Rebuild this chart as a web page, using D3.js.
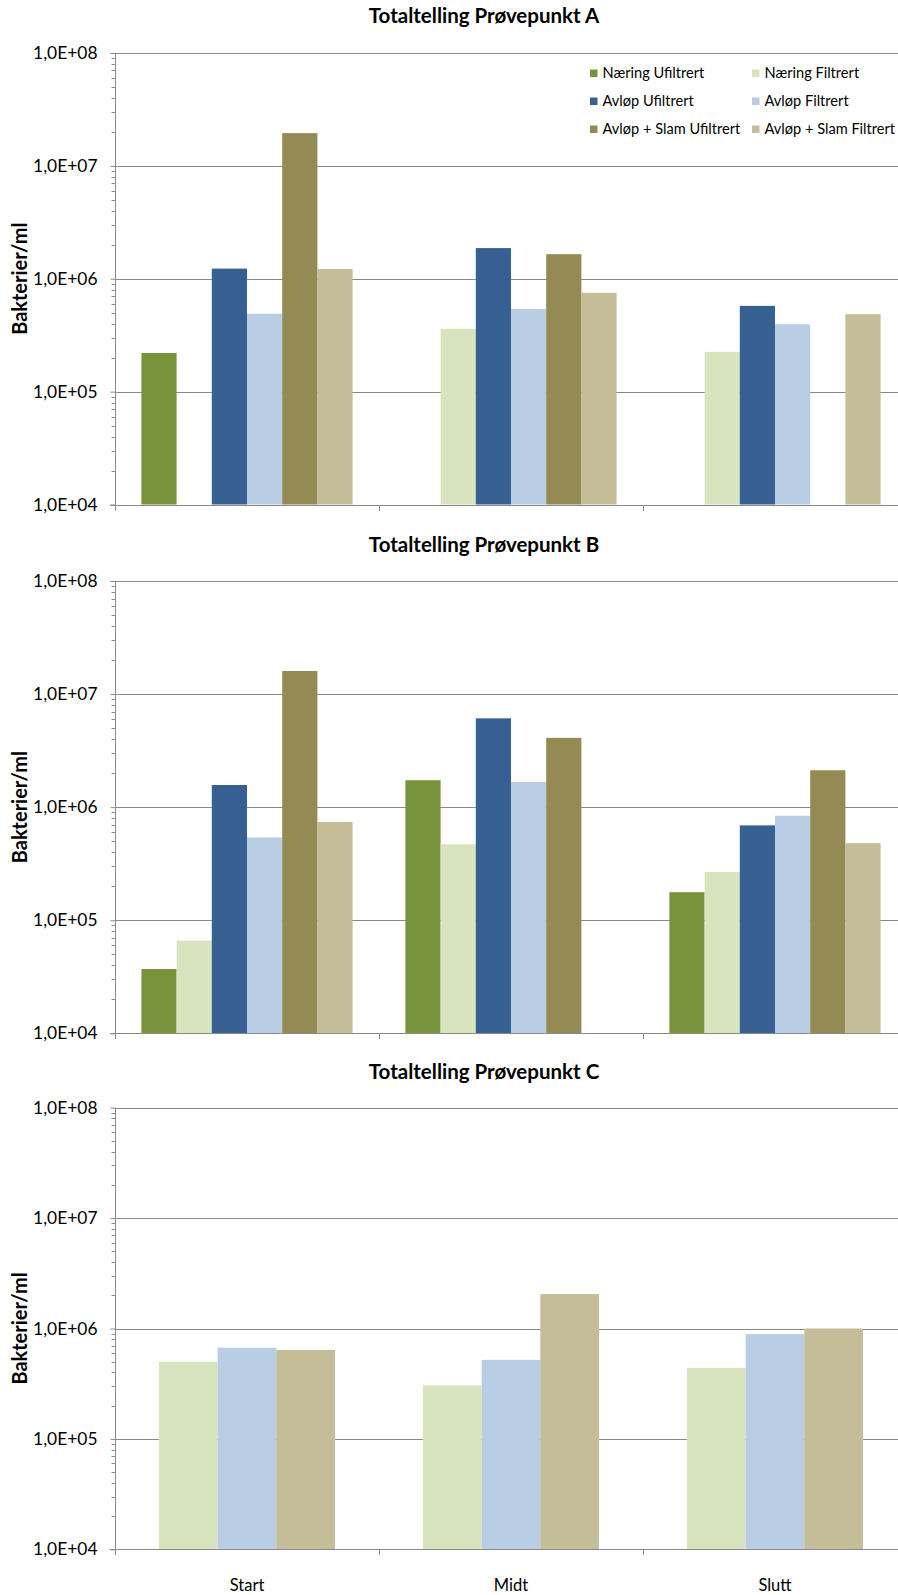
<!DOCTYPE html>
<html>
<head>
<meta charset="utf-8">
<script src="https://cdn.jsdelivr.net/npm/d3@7"></script>
<style>
  html, body { margin: 0; padding: 0; background: #fff; }
  svg { display: block; font-family: Lato, "Open Sans", sans-serif; }
</style>
</head>
<body>
<svg id="chart" width="898" height="1595"></svg>
<script>
// Sampling times (x categories)
const categories = ["Start", "Midt", "Slutt"];

// Series names and colours
const seriesNames = [
  "Næring Ufiltrert", "Næring Filtrert",
  "Avløp Ufiltrert", "Avløp Filtrert",
  "Avløp + Slam Ufiltrert", "Avløp + Slam Filtrert"
];
const seriesColors = ["#77933C", "#D7E4BD", "#376092", "#B9CDE5", "#948A54", "#C4BD97"];

// Log axis ticks and their labels
const yTicks = [1e4, 1e5, 1e6, 1e7, 1e8];
const yTickLabels = ["1,0E+04", "1,0E+05", "1,0E+06", "1,0E+07", "1,0E+08"];

// Prøvepunkt A (bakterier/ml; null = no measurement)
const naeringUfiltA = [2.2e5, null, null];
const naeringFiltA  = [null, 3.6e5, 2.25e5];
const avlopUfiltA   = [1.23e6, 1.87e6, 5.75e5];
const avlopFiltA    = [4.9e5, 5.4e5, 3.95e5];
const slamUfiltA    = [1.95e7, 1.65e6, null];
const slamFiltA     = [1.22e6, 7.5e5, 4.85e5];

// Prøvepunkt B
const naeringUfiltB = [3.7e4, 1.73e6, 1.77e5];
const naeringFiltB  = [6.6e4, 4.7e5, 2.67e5];
const avlopUfiltB   = [1.57e6, 6.1e6, 6.9e5];
const avlopFiltB    = [5.4e5, 1.67e6, 8.4e5];
const slamUfiltB    = [1.6e7, 4.1e6, 2.12e6];
const slamFiltB     = [7.4e5, null, 4.8e5];

// Prøvepunkt C (filtered samples only)
const naeringFiltC = [5.0e5, 3.06e5, 4.4e5];
const avlopFiltC   = [6.7e5, 5.2e5, 8.9e5];
const slamFiltC    = [6.4e5, 2.05e6, 1.0e6];

const svg = d3.select("#chart");
const gridColor = "#8a8a8a";

function drawPanel(opts) {
  const { title, titleY, top, bottom, series, showXLabels, legend } = opts;
  const left = 115, right = 907;

  const x0 = d3.scaleBand().domain(categories).range([left, right]).padding(0);
  const x1 = d3.scaleBand().domain(series.map(s => s.name))
    .range([0, x0.bandwidth()]).paddingInner(0).paddingOuter(0.75);
  const y = d3.scaleLog().domain([1e4, 1e8]).range([bottom, top]);

  const g = svg.append("g");

  // Title
  g.append("text")
    .attr("x", 484).attr("y", titleY)
    .attr("text-anchor", "middle")
    .attr("font-weight", "bold").attr("font-size", 20.5)
    .attr("fill", "#000")
    .text(title);

  // Horizontal gridlines at each decade
  g.append("g").selectAll("line").data(yTicks).join("line")
    .attr("x1", left).attr("x2", right)
    .attr("y1", d => Math.round(y(d)) + 0.5).attr("y2", d => Math.round(y(d)) + 0.5)
    .attr("stroke", gridColor).attr("stroke-width", 1);

  // Bars
  series.forEach(s => {
    g.append("g").selectAll("rect")
      .data(s.values.map((v, i) => ({ cat: categories[i], v })).filter(d => d.v != null))
      .join("rect")
      .attr("x", d => x0(d.cat) + x1(s.name))
      .attr("width", x1.bandwidth())
      .attr("y", d => y(d.v))
      .attr("height", d => y(1e4) - y(d.v))
      .attr("fill", s.color);
  });

  // Y axis with major labels and minor ticks
  const minor = [];
  for (let e = 4; e < 8; e++) for (let k = 2; k <= 9; k++) minor.push(k * Math.pow(10, e));
  const yAxis = d3.axisLeft(y).tickValues(yTicks)
    .tickFormat((d, i) => yTickLabels[i]).tickSize(5).tickPadding(13);
  const ya = g.append("g").attr("transform", `translate(${left + 0.5},0)`).call(yAxis);
  ya.select(".domain").attr("stroke", gridColor).attr("d", `M0,${top}V${bottom + 6}`);
  ya.selectAll(".tick line").attr("stroke", gridColor);
  ya.selectAll(".tick text").attr("font-size", 17.4).attr("fill", "#000")
    .attr("font-family", "Lato, sans-serif");
  g.append("g").attr("transform", `translate(${left + 0.5},0)`)
    .selectAll("line").data(minor).join("line")
    .attr("x1", -4).attr("x2", 0)
    .attr("y1", d => Math.round(y(d)) + 0.5).attr("y2", d => Math.round(y(d)) + 0.5)
    .attr("stroke", gridColor);

  // X axis: ticks at category boundaries
  const bounds = categories.map(c => x0(c)).concat([right]);
  g.append("line")
    .attr("x1", left - 5).attr("x2", right)
    .attr("y1", Math.round(bottom) + 0.5).attr("y2", Math.round(bottom) + 0.5)
    .attr("stroke", gridColor);
  g.append("g").selectAll("line").data(bounds.slice(1)).join("line")
    .attr("x1", d => Math.round(d) + 0.5).attr("x2", d => Math.round(d) + 0.5)
    .attr("y1", Math.round(bottom)).attr("y2", Math.round(bottom) + 6)
    .attr("stroke", gridColor);

  if (showXLabels) {
    g.append("g").selectAll("text").data(categories).join("text")
      .attr("x", d => x0(d) + x0.bandwidth() / 2)
      .attr("y", bottom + 42)
      .attr("text-anchor", "middle").attr("font-size", 16.5).attr("fill", "#000")
      .text(d => d);
  }

  // Y-axis title
  g.append("text")
    .attr("transform", `translate(27,${(top + bottom) / 2}) rotate(-90)`)
    .attr("text-anchor", "middle")
    .attr("font-weight", "bold").attr("font-size", 20).attr("fill", "#000")
    .text("Bakterier/ml");

  if (legend) {
    const colX = [590, 752];
    const rowY = [73, 101, 129];
    const lg = g.append("g");
    const items = lg.selectAll("g").data(seriesNames).join("g")
      .attr("transform", (d, i) => `translate(${colX[i % 2]},${rowY[Math.floor(i / 2)]})`);
    items.append("rect").attr("x", 0).attr("y", -3.5).attr("width", 7.5).attr("height", 7.5)
      .attr("fill", (d, i) => seriesColors[i]);
    items.append("text").attr("x", 12.5).attr("dy", "0.35em")
      .attr("font-size", 14.6).attr("fill", "#000")
      .text(d => d);
  }
}

const colorOf = name => seriesColors[seriesNames.indexOf(name)];

drawPanel({
  title: "Totaltelling Prøvepunkt A", titleY: 23, top: 53, bottom: 504.5,
  series: [naeringUfiltA, naeringFiltA, avlopUfiltA, avlopFiltA, slamUfiltA, slamFiltA]
    .map((v, i) => ({ name: seriesNames[i], color: seriesColors[i], values: v })),
  showXLabels: false, legend: true
});

drawPanel({
  title: "Totaltelling Prøvepunkt B", titleY: 551.5, top: 581, bottom: 1033.3,
  series: [naeringUfiltB, naeringFiltB, avlopUfiltB, avlopFiltB, slamUfiltB, slamFiltB]
    .map((v, i) => ({ name: seriesNames[i], color: seriesColors[i], values: v })),
  showXLabels: false, legend: false
});

drawPanel({
  title: "Totaltelling Prøvepunkt C", titleY: 1079, top: 1107.7, bottom: 1549.3,
  series: [
    { name: "Næring Filtrert", values: naeringFiltC },
    { name: "Avløp Filtrert", values: avlopFiltC },
    { name: "Avløp + Slam Filtrert", values: slamFiltC }
  ].map(s => ({ ...s, color: colorOf(s.name) })),
  showXLabels: true, legend: false
});
</script>
</body>
</html>
